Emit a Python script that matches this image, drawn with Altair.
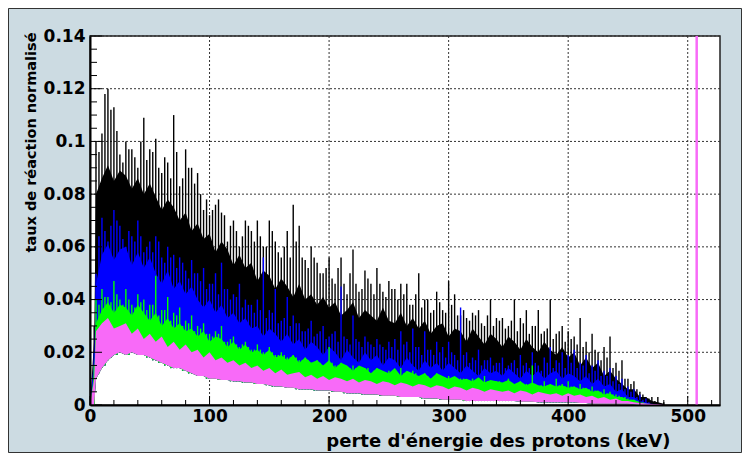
import altair as alt
import pandas as pd

# ---- data (values in thousandths of the normalised rate) ----
KEV = [0, 3.5] + list(range(5, 485, 5))
KEV_MID = [2.5 + 5 * k for k in range(96)]

# spike tops (upper noise envelope) on the KEV grid
BLACK_PEAK = [0, 30, 100, 103, 120, 113, 95, 100, 97, 90,
              109, 97, 101, 88, 92, 110, 83, 97, 90, 88,
              74, 72, 76, 73, 62, 70, 60, 70, 66, 70,
              60, 70, 62, 56, 66, 76, 68, 55, 60, 54,
              50, 56, 46, 56, 42, 59, 43, 51, 46, 52,
              43, 47, 44, 46, 46, 38, 50, 40, 35, 43,
              36, 47, 42, 34, 33, 35, 36, 30, 40, 33,
              33, 30, 40, 33, 36, 30, 36, 28, 40, 27,
              30, 28, 26, 33, 24, 27, 20, 22, 26, 16,
              17, 10, 9, 5, 3, 3, 3, 1]
# dense body level on the KEV grid
BLACK_BODY = [0, 25, 80, 86, 91, 85, 89, 87, 82, 86,
              80, 84, 79, 74, 78, 75, 70, 73, 66, 69,
              63, 65, 58, 62, 59, 53, 57, 52, 54, 47,
              51, 49, 44, 48, 45, 41, 46, 40, 42, 38,
              41, 37, 39, 34, 36, 39, 33, 36, 34, 32,
              37, 32, 31, 35, 30, 33, 29, 32, 27, 30,
              31, 26, 29, 28, 24, 29, 26, 23, 27, 25,
              22, 26, 24, 21, 25, 22, 20, 24, 21, 19,
              22, 18, 20, 15, 18, 14, 16, 11, 13, 10,
              8, 6, 6, 3, 3, 1.5, 1, 0.5]
# spike tops on the KEV_MID grid
BLACK_MID = [0, 96, 118, 112, 104, 92, 97, 94, 100, 93,
             96, 90, 94, 86, 96, 86, 90, 84, 80, 78,
             74, 78, 72, 68, 66, 64, 68, 62, 64, 60,
             66, 58, 60, 56, 62, 56, 52, 56, 50, 52,
             48, 52, 46, 50, 46, 44, 48, 42, 46, 41,
             44, 40, 42, 38, 42, 37, 40, 36, 39, 35,
             38, 34, 36, 32, 34, 31, 34, 30, 32, 29,
             32, 28, 31, 27, 30, 27, 29, 25, 28, 24,
             25, 23, 22, 20, 21, 17, 18, 14, 13, 10,
             8, 6, 4, 2.5, 1.5, 0.5]

BLUE_PEAK = [0, 20, 50, 71, 62, 74, 68, 60, 64, 70,
             58, 62, 64, 56, 60, 57, 56, 51, 55, 50,
             52, 46, 50, 54, 44, 42, 46, 40, 38, 40,
             56, 36, 44, 32, 41, 34, 31, 28, 32, 27,
             30, 26, 28, 45, 25, 34, 24, 26, 23, 25,
             22, 24, 25, 28, 24, 29, 22, 28, 21, 24,
             22, 24, 19, 37, 20, 18, 21, 17, 18, 16,
             18, 15, 17, 19, 16, 20, 15, 18, 22, 17,
             20, 19, 21, 16, 19, 15, 17, 13, 14, 11,
             10, 7, 6, 4, 2.5, 0.5, 0, 0]
BLUE_BODY = [0, 18, 46, 57, 61, 55, 59, 60, 53, 58,
             52, 56, 50, 46, 51, 44, 47, 42, 45, 40,
             37, 40, 35, 38, 33, 35, 31, 33, 29, 30,
             26, 29, 27, 24, 27, 23, 25, 21, 24, 22,
             19, 22, 20, 17, 21, 18, 16, 20, 17, 19,
             15, 18, 17, 14, 18, 15, 13, 17, 14, 16,
             13, 16, 14, 12, 15, 13, 11, 14, 12, 13,
             11, 14, 12, 10, 13, 11, 13, 10, 12, 13,
             10, 12, 11, 9, 11, 8, 10, 7, 8, 5,
             6, 3, 3, 1.5, 1, 0.3, 0, 0]
BLUE_MID = [0, 64, 66, 68, 70, 63, 66, 62, 64, 60,
            58, 62, 54, 56, 52, 54, 48, 50, 47, 44,
            46, 42, 44, 40, 41, 37, 38, 35, 36, 33,
            35, 31, 33, 30, 31, 28, 29, 26, 28, 25,
            27, 24, 26, 23, 25, 22, 24, 22, 23, 21,
            22, 21, 23, 20, 22, 19, 21, 19, 20, 18,
            20, 17, 19, 16, 17, 15, 17, 15, 16, 14,
            16, 14, 15, 14, 16, 13, 16, 14, 16, 14,
            16, 14, 15, 12, 13, 11, 11, 9, 8, 6,
            5, 3, 2, 1, 0.3, 0]

GREEN_PEAK = [0, 15, 40, 44, 41, 47, 40, 44, 38, 42,
              40, 38, 49, 36, 41, 35, 37, 32, 34, 30,
              31, 27, 28, 30, 24, 26, 22, 24, 21, 23,
              20, 22, 19, 20, 18, 19, 17, 18, 16, 17,
              15, 22, 15, 16, 14, 15, 13, 14, 12, 14,
              12, 13, 11, 14, 12, 13, 11, 12, 10, 12,
              10, 11, 9, 10, 9, 10, 8, 11, 8, 9,
              8, 10, 7, 9, 8, 15, 7, 9, 8, 10,
              8, 9, 7, 8, 6, 7, 5, 6, 5, 4,
              3, 2.5, 2, 1, 0.5, 0, 0, 0]
GREEN_BODY = [0, 12, 31, 36, 39, 35, 38, 37, 34, 38,
              35, 32, 35, 30, 33, 29, 31, 28, 29, 26,
              28, 24, 26, 25, 22, 24, 21, 23, 20, 21,
              19, 21, 18, 19, 17, 19, 16, 18, 16, 17,
              15, 17, 14, 16, 15, 13, 15, 14, 12, 14,
              13, 12, 14, 11, 13, 12, 11, 12, 10, 12,
              11, 10, 11, 9.5, 10, 9, 10.5, 8.5, 9.5, 9,
              8.5, 9.5, 8, 9, 7.5, 8.5, 7.5, 7, 8, 7,
              7.5, 6.5, 7, 6, 6.5, 5, 5.5, 4, 4.5, 3,
              3, 2, 2, 1, 0.5, 0.2, 0, 0]
GREEN_MID = [0, 38, 41, 39, 42, 38, 40, 37, 39, 36,
             38, 34, 36, 32, 34, 30, 31, 28, 29, 27,
             26, 27, 24, 25, 23, 23, 22, 21, 21, 20,
             20, 19, 19, 18, 18, 17, 17, 16, 16, 15,
             16, 15, 15, 14, 14, 13, 14, 13, 13, 12,
             12, 12, 12, 11, 12, 11, 11, 10, 11, 10,
             10, 9.5, 10, 9, 9.5, 8.5, 9, 8.5, 9, 8,
             8.5, 8, 8, 7.5, 8, 7.5, 7.5, 7, 7.5, 7,
             7, 6.5, 6.5, 6, 5.5, 5, 4.5, 4, 3.5, 3,
             2, 1.5, 1, 0.5, 0, 0]

PINK = [0, 10, 28, 31, 33, 29, 30, 31, 27, 29,
        25, 27, 24, 26, 22, 24, 21, 23, 20, 21,
        18, 20, 17, 18, 16, 17, 15, 16, 14, 15,
        13, 14, 12, 13.5, 11.5, 12, 12.5, 10.5, 11.5, 10,
        11, 9.5, 10.5, 10, 9, 10, 8.5, 9.5, 9, 8,
        9, 8.5, 7.5, 8.5, 8, 7, 8, 7.5, 6.5, 7.5,
        7, 6, 7, 6.5, 5.5, 6.5, 6, 5, 6, 5.5,
        5, 5.5, 4.5, 5.5, 5, 4, 5, 4.5, 4, 4.5,
        3.5, 4.5, 3.5, 4, 3, 3.5, 2.5, 3, 2, 2.5,
        1.5, 1.5, 1, 0.8, 0.6, 0.4, 0.3, 0]

# lower edge of the pink band (white below it)
FLOOR = [0, 0, 10, 14, 17, 19, 20, 19, 20, 19,
         19, 18, 17, 16, 15, 14, 14, 13, 12, 11,
         11, 10, 10, 9.5, 9.5, 9, 9, 8.5, 8.5, 8,
         8, 7.5, 7, 7, 6.5, 6.5, 6, 6, 6, 5.5,
         5.5, 5.5, 5, 5, 4.5, 4.5, 4.5, 4, 4, 4,
         3.5, 3.5, 3.5, 3, 3, 3, 3, 2.5, 2.5, 2.5,
         2, 2, 2, 2, 1.5, 1.5, 1.5, 1.5, 1.5, 1.5,
         1.5, 1.5, 1.5, 1.2, 1.2, 1.2, 1, 1, 1, 1,
         1, 1, 1, 0.8, 0.8, 0.5, 0.5, 0.5, 0.5, 0.5,
         0.5, 0.5, 0.3, 0, 0, 0, 0, 0]
FLOOR_MID = [0, 12, 15, 18, 19, 20, 19, 20, 19, 18,
             17, 16, 15, 14, 14, 13, 12, 12, 11, 10,
             10, 9.5, 9.5, 9, 9, 8.5, 8.5, 8, 8, 7.5,
             7, 7, 7, 6.5, 6, 6, 6, 5.5, 5.5, 5.5,
             5, 5, 4.5, 4.5, 4.5, 4, 4, 4, 3.5, 3.5,
             3.5, 3, 3, 3, 3, 2.5, 2.5, 2.5, 2, 2,
             2, 2, 1.5, 1.5, 1.5, 1.5, 1.5, 1.5, 1.5, 1.5,
             1.5, 1.5, 1.2, 1.2, 1.2, 1, 1, 1, 1, 1,
             1, 1, 0.8, 0.8, 0.5, 0.5, 0.5, 0.5, 0.5, 0.5,
             0.5, 0.3, 0, 0, 0, 0]

SPIKE_KEV = [507.5]
SPIKE_TOP = [0.16]

X_MAJOR = [0, 100, 200, 300, 400, 500]
X_MINOR = [20, 40, 60, 80, 120, 140, 160, 180, 220, 240, 260, 280,
           320, 340, 360, 380, 420, 440, 460, 480, 520]
Y_MAJOR = [0, 0.02, 0.04, 0.06, 0.08, 0.1, 0.12, 0.14]
Y_MINOR = [0.005, 0.01, 0.015, 0.025, 0.03, 0.035, 0.045, 0.05, 0.055,
           0.065, 0.07, 0.075, 0.085, 0.09, 0.095, 0.105, 0.11, 0.115,
           0.125, 0.13, 0.135]

W, H = 630, 369
FONT = "DejaVu Sans"
C_BLACK, C_BLUE, C_GREEN, C_PINK = "#000000", "#0000ff", "#00ff00", "#f86af8"


def th(vals):
    return [v / 1000 for v in vals]


df = pd.DataFrame({
    "kev": KEV,
    "black_peak": th(BLACK_PEAK), "black_body": th(BLACK_BODY),
    "blue_peak": th(BLUE_PEAK), "blue_body": th(BLUE_BODY),
    "green_peak": th(GREEN_PEAK), "green_body": th(GREEN_BODY),
    "pink": th(PINK), "floor": th(FLOOR),
})
dfm = pd.DataFrame({
    "kev": KEV_MID,
    "black_mid": th(BLACK_MID), "blue_mid": th(BLUE_MID),
    "green_mid": th(GREEN_MID), "floor": th(FLOOR_MID),
})

xsc = alt.Scale(domain=[0, 527], nice=False, zero=False)
ysc = alt.Scale(domain=[0, 0.14], nice=False, zero=True)

x_axis = alt.Axis(values=X_MAJOR, format="d", grid=False, ticks=False, tickSize=0,
                  domain=True, domainColor="#000", domainWidth=2,
                  labelFont=FONT, labelFontWeight="bold", labelFontSize=17,
                  labelColor="#000", labelPadding=3, labelFlush=False,
                  title="perte d'énergie des protons (keV)", titleFont=FONT,
                  titleFontWeight="bold", titleFontSize=18, titleColor="#000",
                  titleAlign="right", titleBaseline="alphabetic",
                  titleX=580, titleY=41, zindex=2)
y_axis = alt.Axis(values=Y_MAJOR, format="~g", grid=False, ticks=False, tickSize=0,
                  domain=True, domainColor="#000", domainWidth=2,
                  labelFont=FONT, labelFontWeight="bold", labelFontSize=17,
                  labelColor="#000", labelPadding=5, labelFlush=False,
                  title="taux de réaction normalisé", titleFont=FONT,
                  titleFontWeight="bold", titleFontSize=14.5, titleColor="#000",
                  titleAngle=270, titleAlign="right", titleBaseline="alphabetic",
                  titleX=-55, titleY=-4, zindex=2)


def X(field):
    return alt.X(field, type="quantitative", scale=xsc, axis=x_axis)


def Y(field):
    return alt.Y(field, type="quantitative", scale=ysc, axis=y_axis)


def body(col, color):
    return alt.Chart(df).mark_area(color=color, interpolate="linear").encode(
        x=X("kev"), y=Y(col), y2="floor:Q")


def spikes(data, col, color):
    return alt.Chart(data).mark_rule(color=color, strokeWidth=1.4).encode(
        x=X("kev"), y=Y(col), y2="floor:Q")


spike = alt.Chart(pd.DataFrame({"kev": SPIKE_KEV, "top": SPIKE_TOP, "bot": [0.0]})).mark_rule(
    color=C_PINK, strokeWidth=2.5, clip=True).encode(x=X("kev"), y=Y("top"), y2="bot:Q")

grid_x = alt.Chart(pd.DataFrame({"v": X_MAJOR[1:]})).mark_rule(
    color="#333", strokeDash=[2, 2], strokeWidth=1).encode(x=X("v"))
grid_y = alt.Chart(pd.DataFrame({"v": Y_MAJOR[1:]})).mark_rule(
    color="#333", strokeDash=[2, 2], strokeWidth=1).encode(y=Y("v"))

tick_xmin = alt.Chart(pd.DataFrame({"v": X_MINOR})).mark_rule(color="#000", strokeWidth=1).encode(
    x=X("v"), y=alt.value(H), y2=alt.value(H - 5))
tick_xmaj = alt.Chart(pd.DataFrame({"v": X_MAJOR})).mark_rule(color="#000", strokeWidth=1).encode(
    x=X("v"), y=alt.value(H), y2=alt.value(H - 9))
tick_ymin = alt.Chart(pd.DataFrame({"v": Y_MINOR})).mark_rule(color="#000", strokeWidth=1).encode(
    y=Y("v"), x=alt.value(0), x2=alt.value(7))
tick_ymaj = alt.Chart(pd.DataFrame({"v": Y_MAJOR})).mark_rule(color="#000", strokeWidth=1).encode(
    y=Y("v"), x=alt.value(0), x2=alt.value(12))

border = alt.Chart(pd.DataFrame({"a": [0]})).mark_rect(
    fill="transparent", stroke="#333", strokeWidth=1).encode(
    x=alt.value(-81.5), x2=alt.value(651.5), y=alt.value(-27.5), y2=alt.value(416.5))

chart = alt.layer(
    grid_x, grid_y,
    body("black_body", C_BLACK), spikes(df, "black_peak", C_BLACK), spikes(dfm, "black_mid", C_BLACK),
    body("blue_body", C_BLUE), spikes(df, "blue_peak", C_BLUE), spikes(dfm, "blue_mid", C_BLUE),
    body("green_body", C_GREEN), spikes(df, "green_peak", C_GREEN), spikes(dfm, "green_mid", C_GREEN),
    body("pink", C_PINK),
    spike, tick_xmin, tick_xmaj, tick_ymin, tick_ymaj, border
).properties(
    width=W, height=H,
    padding={"left": 82, "top": 28, "right": 22, "bottom": 48},
    autosize=alt.AutoSizeParams(type="none"),
    background="#ccdbe2",
).configure_view(fill="white", stroke="#222", strokeWidth=1.5)

chart.save("out.html", embed_options={"renderer": "svg", "actions": False})
